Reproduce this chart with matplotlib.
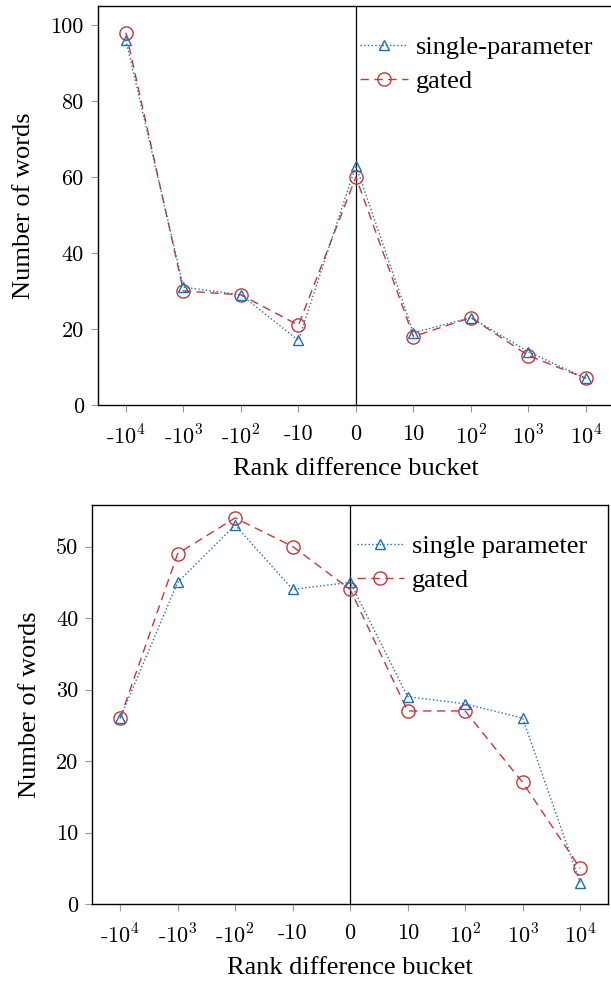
import matplotlib
matplotlib.use("Agg")
import matplotlib.pyplot as plt

plt.rcParams["font.family"] = ["Liberation Serif", "DejaVu Serif"]
plt.rcParams["mathtext.fontset"] = "cm"

buckets = ["-$10^4$", "-$10^3$", "-$10^2$", "-10", "0", "10", "$10^2$", "$10^3$", "$10^4$"]

# top panel
top_single = [96, 31, 29, 17, 63, 19, 23, 14, 7]
top_gated = [98, 30, 29, 21, 60, 18, 23, 13, 7]

# bottom panel
bot_single = [26, 45, 53, 44, 45, 29, 28, 26, 3]
bot_gated = [26, 49, 54, 50, 44, 27, 27, 17, 5]

BLUE = "#1f6fb0"
RED = "#c0393b"

fig = plt.figure(figsize=(6.11, 9.82), dpi=100)
ax1 = fig.add_axes([0.160, 0.5876, 0.845, 0.4063])
ax2 = fig.add_axes([0.1506, 0.0794, 0.845, 0.4063])

def panel(ax, single, gated, single_label, ylim, yticks):
    x = list(range(len(buckets)))
    ax.axvline(4, color="black", lw=0.9, zorder=1)
    ax.plot(x, single, ls=":", color=BLUE, lw=1.0, marker="^", ms=7.5,
            mfc="none", mec=BLUE, mew=1.0, label=single_label, zorder=3)
    ax.plot(x, gated, ls=(0, (6, 4)), color=RED, lw=1.0, marker="o", ms=9.5,
            mfc="none", mec=RED, mew=1.0, label="gated", zorder=2)
    ax.set_xlim(-0.49, 8.49)
    ax.set_ylim(*ylim)
    ax.set_yticks(yticks)
    ax.set_xticks(x)
    ax.set_xticklabels(buckets)
    ax.tick_params(axis="both", direction="out", length=5, color="#999999",
                   labelsize=16)
    ax.tick_params(axis="x", pad=9)
    ax.tick_params(axis="y", pad=5)
    for lab in ax.get_xticklabels() + ax.get_yticklabels():
        lab.set_family("cmr10")
    for s in ax.spines.values():
        s.set_linewidth(1.0)
    ax.set_xlabel("Rank difference bucket", fontsize=19, labelpad=7)
    ax.set_ylabel("Number of words", fontsize=19, labelpad=11)
    ax.legend(loc="upper right", frameon=False, fontsize=19,
              handlelength=1.8, handletextpad=0.3, labelspacing=0.4,
              borderaxespad=0.2, bbox_to_anchor=(0.99, 0.965))

panel(ax1, top_single, top_gated, "single-parameter", (0, 105), [0, 20, 40, 60, 80, 100])
panel(ax2, bot_single, bot_gated, "single parameter", (0, 55.8), [0, 10, 20, 30, 40, 50])

fig.savefig("out.png", dpi=100)
